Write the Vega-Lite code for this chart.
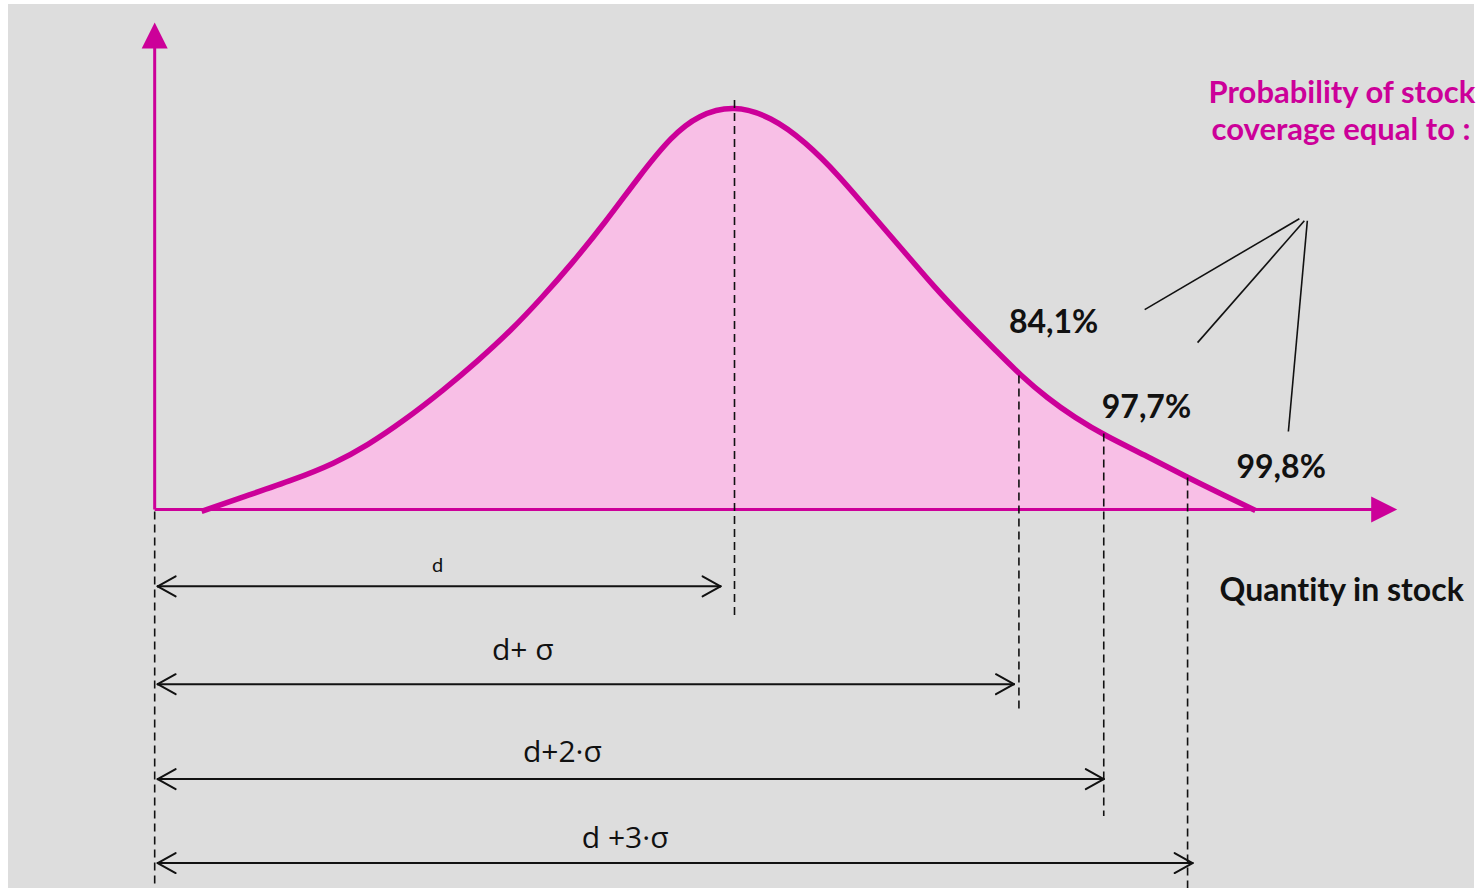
{
  "$schema": "https://vega.github.io/schema/vega-lite/v6.json",
  "width": 1477,
  "height": 889,
  "padding": 0,
  "autosize": {"type": "fit", "contains": "padding"},
  "background": "#ffffff",
  "view": {"stroke": null},
  "datasets": {
    "bg": [{"x": 8, "x2": 1477, "y": 4, "y2": 889}],
    "curve": [
      {"x": 202, "y": 512}, {"x": 245, "y": 497}, {"x": 295, "y": 480}, {"x": 335, "y": 464},
      {"x": 368, "y": 446}, {"x": 405, "y": 421}, {"x": 445, "y": 390}, {"x": 478, "y": 362},
      {"x": 512, "y": 331}, {"x": 543, "y": 298}, {"x": 573, "y": 264}, {"x": 607, "y": 222},
      {"x": 640, "y": 177}, {"x": 673, "y": 136}, {"x": 700, "y": 115}, {"x": 735, "y": 105},
      {"x": 773, "y": 117}, {"x": 807, "y": 142}, {"x": 840, "y": 175}, {"x": 873, "y": 214},
      {"x": 907, "y": 253}, {"x": 935, "y": 286}, {"x": 967, "y": 320}, {"x": 1000, "y": 353},
      {"x": 1022, "y": 375}, {"x": 1050, "y": 399}, {"x": 1077, "y": 418}, {"x": 1107, "y": 436},
      {"x": 1150, "y": 457}, {"x": 1190, "y": 478}, {"x": 1227, "y": 496}, {"x": 1258, "y": 511}
    ],
    "segs": [
      {"kind": "axis", "x": 155, "y": 48, "x2": 155, "y2": 510},
      {"kind": "axis", "x": 155, "y": 510, "x2": 1376, "y2": 510},
      {"kind": "dash", "x": 155, "y": 512, "x2": 155, "y2": 889},
      {"kind": "dash", "x": 736, "y": 100, "x2": 736, "y2": 620},
      {"kind": "dash", "x": 1021, "y": 376, "x2": 1021, "y2": 713},
      {"kind": "dash", "x": 1106, "y": 434, "x2": 1106, "y2": 817},
      {"kind": "dash", "x": 1190, "y": 478, "x2": 1190, "y2": 889},
      {"kind": "arrow", "x": 158, "y": 587, "x2": 722, "y2": 587},
      {"kind": "arrow", "x": 158, "y": 587, "x2": 176, "y2": 577},
      {"kind": "arrow", "x": 158, "y": 587, "x2": 176, "y2": 597},
      {"kind": "arrow", "x": 722, "y": 587, "x2": 704, "y2": 577},
      {"kind": "arrow", "x": 722, "y": 587, "x2": 704, "y2": 597},
      {"kind": "arrow", "x": 158, "y": 685, "x2": 1016, "y2": 685},
      {"kind": "arrow", "x": 158, "y": 685, "x2": 176, "y2": 675},
      {"kind": "arrow", "x": 158, "y": 685, "x2": 176, "y2": 695},
      {"kind": "arrow", "x": 1016, "y": 685, "x2": 998, "y2": 675},
      {"kind": "arrow", "x": 1016, "y": 685, "x2": 998, "y2": 695},
      {"kind": "arrow", "x": 158, "y": 780, "x2": 1106, "y2": 780},
      {"kind": "arrow", "x": 158, "y": 780, "x2": 176, "y2": 770},
      {"kind": "arrow", "x": 158, "y": 780, "x2": 176, "y2": 790},
      {"kind": "arrow", "x": 1106, "y": 780, "x2": 1088, "y2": 770},
      {"kind": "arrow", "x": 1106, "y": 780, "x2": 1088, "y2": 790},
      {"kind": "arrow", "x": 158, "y": 864, "x2": 1195, "y2": 864},
      {"kind": "arrow", "x": 158, "y": 864, "x2": 176, "y2": 854},
      {"kind": "arrow", "x": 158, "y": 864, "x2": 176, "y2": 874},
      {"kind": "arrow", "x": 1195, "y": 864, "x2": 1177, "y2": 854},
      {"kind": "arrow", "x": 1195, "y": 864, "x2": 1177, "y2": 874},
      {"kind": "pointer", "x": 1302, "y": 219, "x2": 1147, "y2": 310},
      {"kind": "pointer", "x": 1307, "y": 221, "x2": 1200, "y2": 343},
      {"kind": "pointer", "x": 1310, "y": 221, "x2": 1291, "y2": 432}
    ],
    "tris": [
      {"dir": "up", "x": 155, "y": 35.5},
      {"dir": "right", "x": 1387, "y": 510}
    ],
    "labels": [
      {"kind": "title", "text": "Probability of stock", "x": 1211, "y": 103},
      {"kind": "title", "text": "coverage equal to :", "x": 1214, "y": 140},
      {"kind": "pct", "text": "84,1%", "x": 1011, "y": 333},
      {"kind": "pct", "text": "97,7%", "x": 1104, "y": 418},
      {"kind": "pct", "text": "99,8%", "x": 1239, "y": 479},
      {"kind": "axis", "text": "Quant‌ity in stock", "x": 1222, "y": 602},
      {"kind": "small", "text": "d", "x": 433, "y": 573},
      {"kind": "dim", "text": "d+ σ", "x": 493, "y": 661},
      {"kind": "dim", "text": "d+2·σ", "x": 524, "y": 763},
      {"kind": "dim", "text": "d +3·σ", "x": 583, "y": 849}
    ]
  },
  "encoding": {
    "x": {"type": "quantitative", "scale": {"domain": [0, 1477], "nice": false, "zero": false}, "axis": null},
    "y": {"type": "quantitative", "scale": {"domain": [0, 889], "nice": false, "zero": false, "reverse": true}, "axis": null}
  },
  "layer": [
    {
      "data": {"name": "bg"},
      "mark": {"type": "rect", "color": "#dddddd"},
      "encoding": {"x": {"field": "x", "type": "quantitative"}, "x2": {"field": "x2"}, "y": {"field": "y", "type": "quantitative"}, "y2": {"field": "y2"}}
    },
    {
      "data": {"name": "curve"},
      "mark": {"type": "area", "color": "#f8bfe6", "opacity": 1, "interpolate": "basis"},
      "encoding": {"x": {"field": "x", "type": "quantitative"}, "y": {"field": "y", "type": "quantitative"}, "y2": {"datum": 510}}
    },
    {
      "data": {"name": "segs"},
      "transform": [{"filter": "datum.kind === 'axis'"}],
      "mark": {"type": "rule", "color": "#cc0099", "strokeWidth": 3},
      "encoding": {"x": {"field": "x", "type": "quantitative"}, "x2": {"field": "x2"}, "y": {"field": "y", "type": "quantitative"}, "y2": {"field": "y2"}}
    },
    {
      "data": {"name": "curve"},
      "mark": {"type": "line", "color": "#cc0099", "strokeWidth": 5.5, "interpolate": "basis", "strokeCap": "butt"},
      "encoding": {"x": {"field": "x", "type": "quantitative"}, "y": {"field": "y", "type": "quantitative"}}
    },
    {
      "data": {"name": "segs"},
      "transform": [{"filter": "datum.kind === 'dash'"}],
      "mark": {"type": "rule", "color": "#111111", "strokeWidth": 1.6, "strokeDash": [8, 5]},
      "encoding": {"x": {"field": "x", "type": "quantitative"}, "x2": {"field": "x2"}, "y": {"field": "y", "type": "quantitative"}, "y2": {"field": "y2"}}
    },
    {
      "data": {"name": "segs"},
      "transform": [{"filter": "datum.kind === 'arrow'"}],
      "mark": {"type": "rule", "color": "#111111", "strokeWidth": 2, "strokeCap": "round"},
      "encoding": {"x": {"field": "x", "type": "quantitative"}, "x2": {"field": "x2"}, "y": {"field": "y", "type": "quantitative"}, "y2": {"field": "y2"}}
    },
    {
      "data": {"name": "segs"},
      "transform": [{"filter": "datum.kind === 'pointer'"}],
      "mark": {"type": "rule", "color": "#111111", "strokeWidth": 1.6},
      "encoding": {"x": {"field": "x", "type": "quantitative"}, "x2": {"field": "x2"}, "y": {"field": "y", "type": "quantitative"}, "y2": {"field": "y2"}}
    },
    {
      "data": {"name": "tris"},
      "transform": [{"filter": "datum.dir === 'up'"}],
      "mark": {"type": "point", "shape": "M0,-1L-1,1L1,1Z", "size": 676, "filled": true, "color": "#cc0099", "opacity": 1},
      "encoding": {"x": {"field": "x", "type": "quantitative"}, "y": {"field": "y", "type": "quantitative"}}
    },
    {
      "data": {"name": "tris"},
      "transform": [{"filter": "datum.dir === 'right'"}],
      "mark": {"type": "point", "shape": "M1,0L-1,-1L-1,1Z", "size": 676, "filled": true, "color": "#cc0099", "opacity": 1},
      "encoding": {"x": {"field": "x", "type": "quantitative"}, "y": {"field": "y", "type": "quantitative"}}
    },
    {
      "data": {"name": "labels"},
      "transform": [{"filter": "datum.kind === 'title'"}],
      "mark": {"type": "text", "align": "left", "baseline": "alphabetic", "font": "Lato", "fontWeight": "bold", "fontSize": 31, "color": "#cc0099"},
      "encoding": {"x": {"field": "x", "type": "quantitative"}, "y": {"field": "y", "type": "quantitative"}, "text": {"field": "text"}}
    },
    {
      "data": {"name": "labels"},
      "transform": [{"filter": "datum.kind === 'pct'"}],
      "mark": {"type": "text", "align": "left", "baseline": "alphabetic", "font": "Lato", "fontWeight": "bold", "fontSize": 32, "color": "#111111"},
      "encoding": {"x": {"field": "x", "type": "quantitative"}, "y": {"field": "y", "type": "quantitative"}, "text": {"field": "text"}}
    },
    {
      "data": {"name": "labels"},
      "transform": [{"filter": "datum.kind === 'axis'"}],
      "mark": {"type": "text", "align": "left", "baseline": "alphabetic", "font": "Lato", "fontWeight": "bold", "fontSize": 32, "color": "#111111"},
      "encoding": {"x": {"field": "x", "type": "quantitative"}, "y": {"field": "y", "type": "quantitative"}, "text": {"field": "text"}}
    },
    {
      "data": {"name": "labels"},
      "transform": [{"filter": "datum.kind === 'small'"}],
      "mark": {"type": "text", "align": "left", "baseline": "alphabetic", "font": "Lato", "fontSize": 20, "color": "#111111"},
      "encoding": {"x": {"field": "x", "type": "quantitative"}, "y": {"field": "y", "type": "quantitative"}, "text": {"field": "text"}}
    },
    {
      "data": {"name": "labels"},
      "transform": [{"filter": "datum.kind === 'dim'"}],
      "mark": {"type": "text", "align": "left", "baseline": "alphabetic", "font": "Open Sans", "fontSize": 30, "color": "#111111"},
      "encoding": {"x": {"field": "x", "type": "quantitative"}, "y": {"field": "y", "type": "quantitative"}, "text": {"field": "text"}}
    }
  ]
}
